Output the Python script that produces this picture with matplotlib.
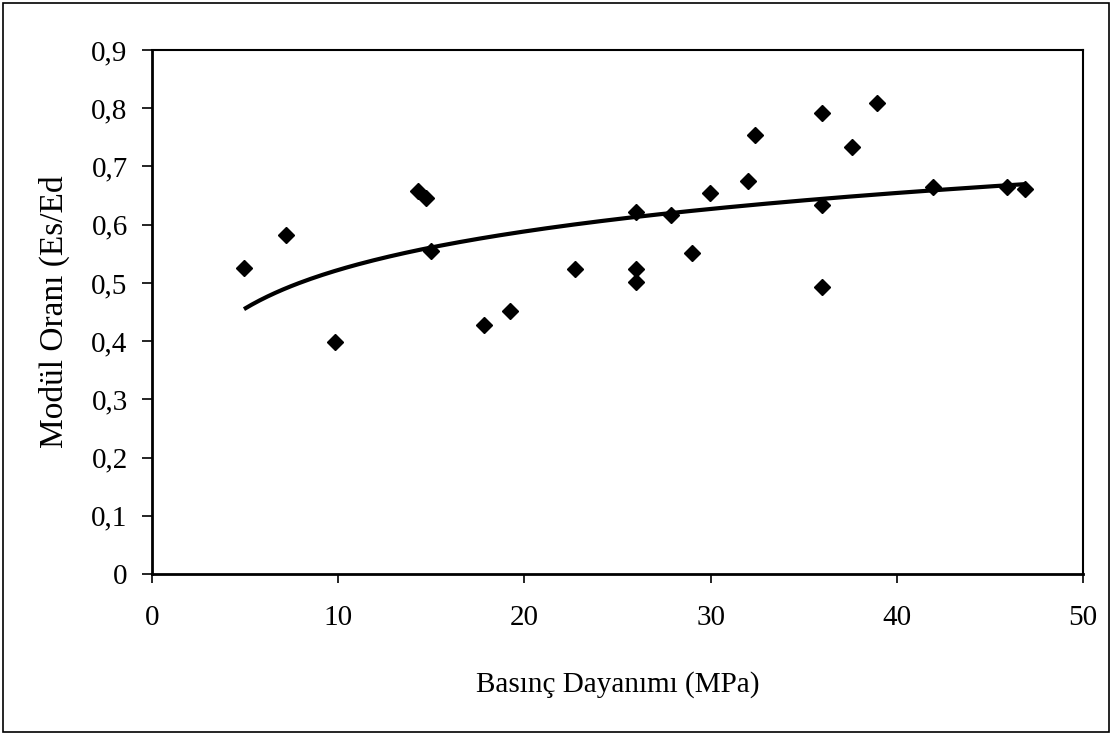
import matplotlib
matplotlib.use("Agg")
import matplotlib.pyplot as plt
from matplotlib.patches import Rectangle
from matplotlib.ticker import FuncFormatter
import numpy as np

# compressive strength (MPa) and modulus ratio Es/Ed for each specimen
strength = [4.94, 7.2, 9.85, 14.3, 14.7, 15.0, 17.85, 19.25, 22.7, 26.0, 26.0, 26.0,
            27.9, 29.0, 29.97, 32.0, 32.4, 35.97, 35.97, 35.97, 37.58, 38.95,
            41.96, 45.9, 46.9]
ratio = [0.526, 0.582, 0.399, 0.658, 0.646, 0.554, 0.427, 0.451, 0.523, 0.621,
         0.524, 0.502, 0.616, 0.551, 0.654, 0.675, 0.754, 0.792, 0.633, 0.493,
         0.733, 0.809, 0.664, 0.665, 0.661]

x_label = "Basınç Dayanımı (MPa)"
y_label = "Modül Oranı (Es/Ed"

plt.rcParams["font.family"] = ["Liberation Serif", "DejaVu Serif"]
plt.rcParams["font.size"] = 21

fig = plt.figure(figsize=(11.12, 7.35), dpi=100)
ax = fig.add_axes([152 / 1112, 1 - 574 / 735, 931 / 1112, 524 / 735])

x = np.array(strength)
y = np.array(ratio)

# logarithmic trend line over the measured range
b, a = np.polyfit(np.log(x), y, 1)
xs = np.linspace(x.min(), x.max(), 200)
ax.plot(xs, a + b * np.log(xs), color="black", lw=3.0, solid_capstyle="butt", zorder=2)

ax.plot(x, y, "D", color="black", ms=8.5, zorder=3)

ax.set_xlim(0, 50)
ax.set_ylim(0, 0.9)
ax.set_xticks(np.arange(0, 51, 10))
ax.set_yticks(np.arange(0, 0.91, 0.1))
ax.yaxis.set_major_formatter(FuncFormatter(lambda v, p: "0" if abs(v) < 1e-9 else f"{v:.1f}".replace(".", ",")))

ax.tick_params(axis="x", direction="out", length=6.5, width=1.2, pad=16)
ax.tick_params(axis="y", direction="out", length=7.5, width=1.2, pad=10)
for side in ["left", "bottom"]:
    ax.spines[side].set_linewidth(2.0)
for side in ["top", "right"]:
    ax.spines[side].set_linewidth(1.5)

ax.set_xlabel(x_label)
ax.set_ylabel(y_label, fontsize=24)
ax.xaxis.set_label_coords(0.5, -0.185)
ax.yaxis.set_label_coords(-0.088, 0.5)

# outer chart frame
fig.patches.append(Rectangle((3 / 1112, 3 / 735), 1106 / 1112, 729 / 735,
                             transform=fig.transFigure, fill=False,
                             edgecolor="black", lw=1.2))

fig.savefig("out.png", dpi=100)
